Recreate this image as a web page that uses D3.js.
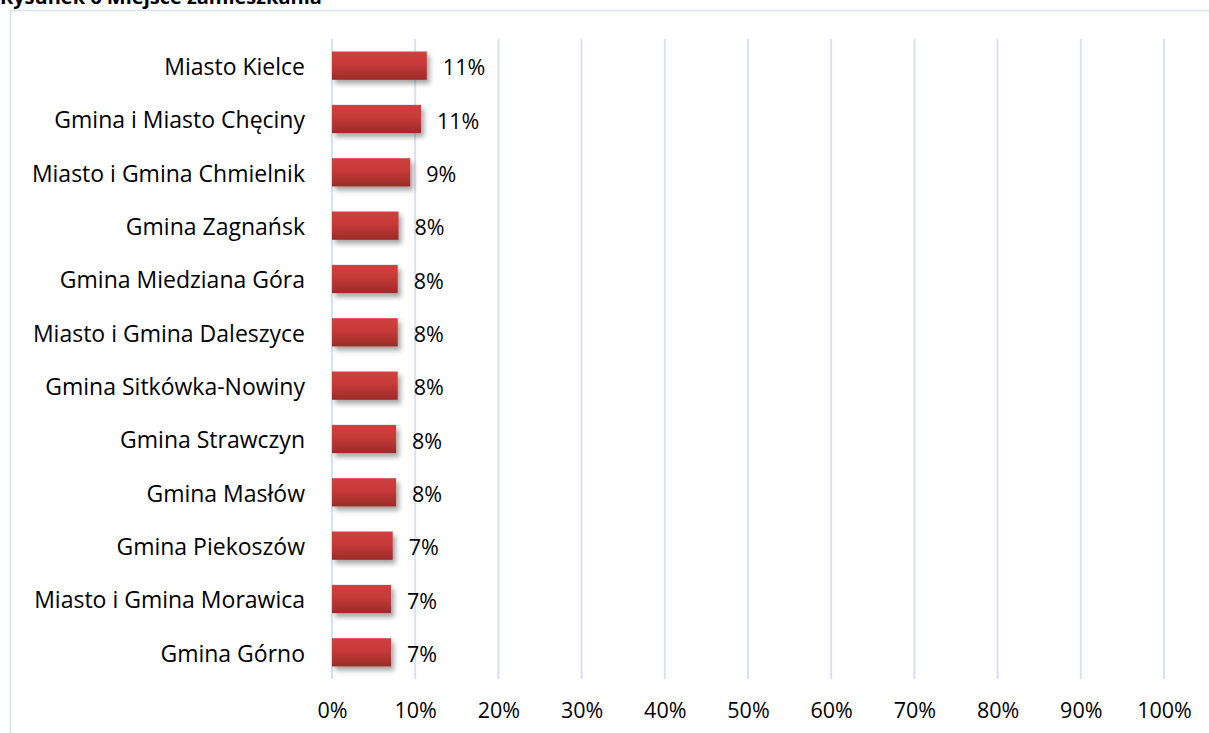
<!DOCTYPE html>
<html>
<head>
<meta charset="utf-8">
<script src="https://cdn.jsdelivr.net/npm/d3@7"></script>
<style>
  body { margin: 0; background: #fff; }
  svg { display: block; font-family: "Open Sans", sans-serif; }
</style>
</head>
<body>
<div id="vis"></div>
<script>
// data
var places = ['Miasto Kielce', 'Gmina i Miasto Chęciny', 'Miasto i Gmina Chmielnik',
  'Gmina Zagnańsk', 'Gmina Miedziana Góra', 'Miasto i Gmina Daleszyce',
  'Gmina Sitkówka-Nowiny', 'Gmina Strawczyn', 'Gmina Masłów', 'Gmina Piekoszów',
  'Miasto i Gmina Morawica', 'Gmina Górno'];
var shares = [0.114, 0.107, 0.094, 0.080, 0.079, 0.079, 0.079, 0.077, 0.077, 0.073, 0.071, 0.071];
var tickValues = [0, 0.1, 0.2, 0.3, 0.4, 0.5, 0.6, 0.7, 0.8, 0.9, 1];
var title = 'Rysunek 6 Miejsce zamieszkania';

var width = 1209;
var height = 733;
var margin = { top: 39, right: 45, bottom: 54, left: 332 };
var font = '"Open Sans", sans-serif';

var svg = d3.select('#vis').append('svg')
  .attr('width', width)
  .attr('height', height);

var defs = svg.append('defs');
var grad = defs.append('linearGradient')
  .attr('id', 'barGrad')
  .attr('x1', 0).attr('y1', 0).attr('x2', 0).attr('y2', 1);
grad.append('stop').attr('offset', '0%').attr('stop-color', '#d0403e');
grad.append('stop').attr('offset', '45%').attr('stop-color', '#c63a38');
grad.append('stop').attr('offset', '100%').attr('stop-color', '#9a2b2a');

var shadow = defs.append('filter').attr('id', 'shadow')
  .attr('x', '-10%').attr('y', '-30%').attr('width', '130%').attr('height', '180%');
shadow.append('feDropShadow')
  .attr('dx', 3).attr('dy', 4).attr('stdDeviation', 2.5)
  .attr('flood-color', '#000').attr('flood-opacity', 0.35);

// chart frame
svg.append('path')
  .attr('d', 'M10.5,' + height + 'V10.5H' + width)
  .attr('fill', 'none')
  .attr('stroke', '#d9e4f2')
  .attr('stroke-width', 1.5);

// title, cut off at the top like in the source
svg.append('text')
  .attr('x', 0)
  .attr('y', 4)
  .style('font-family', font)
  .style('font-weight', 'bold')
  .style('font-size', '20px')
  .text(title);

var x = d3.scaleLinear()
  .domain([0, 1])
  .range([margin.left, width - margin.right]);

var y = d3.scaleBand()
  .domain(places)
  .range([margin.top, height - margin.bottom])
  .paddingInner(0.47)
  .paddingOuter(0.235);

// gridlines
svg.append('g').selectAll('line')
  .data(tickValues)
  .enter().append('line')
  .attr('x1', function (d) { return x(d); })
  .attr('x2', function (d) { return x(d); })
  .attr('y1', margin.top)
  .attr('y2', height - margin.bottom)
  .attr('stroke', '#d4e2f4')
  .attr('stroke-width', 2);

// x axis labels
var xAxis = d3.axisBottom(x)
  .tickValues(tickValues)
  .tickFormat(d3.format('.0%'))
  .tickSize(0)
  .tickPadding(0);

var gx = svg.append('g')
  .attr('transform', 'translate(0,' + (height - margin.bottom + 24) + ')')
  .call(xAxis);
gx.select('.domain').remove();
gx.selectAll('text')
  .style('font-family', font)
  .style('font-size', '21.5px')
  .attr('fill', '#000');

// y axis labels
var yAxis = d3.axisLeft(y).tickSize(0).tickPadding(27);
var gy = svg.append('g')
  .attr('transform', 'translate(' + margin.left + ',2)')
  .call(yAxis);
gy.select('.domain').remove();
gy.selectAll('text')
  .style('font-family', font)
  .style('font-size', '23px')
  .attr('fill', '#000');

// bars
svg.append('g').selectAll('rect')
  .data(shares)
  .enter().append('rect')
  .attr('x', x(0))
  .attr('y', function (d, i) { return y(places[i]); })
  .attr('width', function (d) { return x(d) - x(0); })
  .attr('height', y.bandwidth())
  .attr('fill', 'url(#barGrad)')
  .attr('filter', 'url(#shadow)');

// value labels
svg.append('g').selectAll('text')
  .data(shares)
  .enter().append('text')
  .attr('x', function (d) { return x(d) + 16; })
  .attr('y', function (d, i) { return y(places[i]) + y.bandwidth() / 2 + 2; })
  .attr('dy', '0.35em')
  .style('font-family', font)
  .style('font-size', '21.5px')
  .text(function (d) { return d3.format('.0%')(d); });
</script>
</body>
</html>
